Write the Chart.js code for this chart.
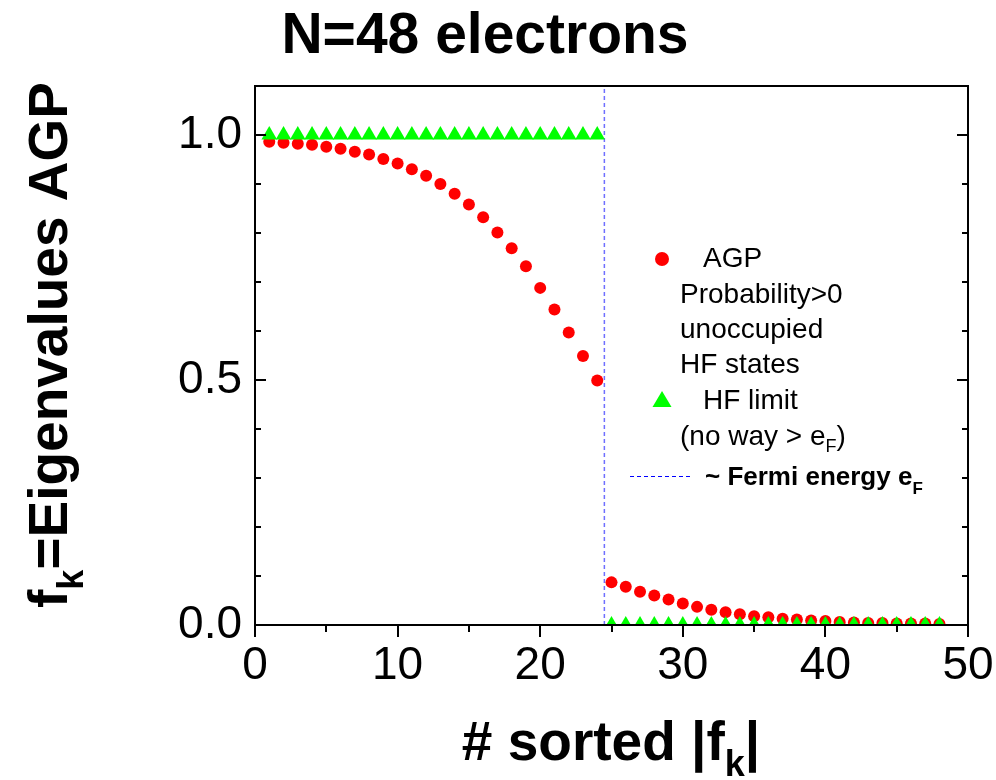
<!DOCTYPE html>
<html>
<head>
<meta charset="utf-8">
<script src="https://cdn.jsdelivr.net/npm/chart.js@4"></script>
<style>
  body { margin: 0; background: #fff; }
  #wrap { width: 996px; height: 780px; }
</style>
</head>
<body>
<div id="wrap"><canvas id="agpChart" width="996" height="780"></canvas></div>
<script>
// index of the sorted eigenvalue
const kIndex = [1, 2, 3, 4, 5, 6, 7, 8, 9, 10, 11, 12, 13, 14, 15, 16, 17, 18, 19, 20, 21, 22, 23, 24,
                25, 26, 27, 28, 29, 30, 31, 32, 33, 34, 35, 36, 37, 38, 39, 40, 41, 42, 43, 44, 45, 46, 47, 48];
const agpValues = [0.986, 0.984, 0.982, 0.980, 0.976, 0.972, 0.966, 0.960, 0.951, 0.942, 0.930, 0.917,
                   0.900, 0.880, 0.858, 0.832, 0.801, 0.769, 0.732, 0.688, 0.644, 0.597, 0.549, 0.499,
                   0.087, 0.078, 0.068, 0.060, 0.052, 0.044, 0.037, 0.031, 0.026, 0.022, 0.018, 0.016,
                   0.013, 0.011, 0.009, 0.008, 0.006, 0.005, 0.004, 0.004, 0.003, 0.003, 0.003, 0.002];
const hfValues = [1, 1, 1, 1, 1, 1, 1, 1, 1, 1, 1, 1, 1, 1, 1, 1, 1, 1, 1, 1, 1, 1, 1, 1,
                  0, 0, 0, 0, 0, 0, 0, 0, 0, 0, 0, 0, 0, 0, 0, 0, 0, 0, 0, 0, 0, 0, 0, 0];
const fermiX = 24.5;
const xTickLabels = [0, 10, 20, 30, 40, 50];
const yTickLabels = [0.0, 0.5, 1.0];

const FONT = "'Liberation Sans', Arial, sans-serif";

const toPoints = (ys) => kIndex.map((k, i) => ({ x: k, y: ys[i] }));

// frame, inward y ticks, outward x ticks, titles and the hand-made legend
const decorations = {
    id: 'decorations',
    afterDraw(chart) {
        const ctx = chart.ctx;
        const a = chart.chartArea;
        const xs = chart.scales.x, ys = chart.scales.y;
        ctx.save();
        ctx.strokeStyle = '#000';
        ctx.lineWidth = 2;
        ctx.strokeRect(a.left, a.top, a.right - a.left, a.bottom - a.top);

        ctx.beginPath();
        for (let i = 0; i <= 11; i++) {
            const v = i / 10;
            const py = Math.round(ys.getPixelForValue(v));
            const len = (i % 5 === 0) ? 11 : 6;
            ctx.moveTo(a.left, py); ctx.lineTo(a.left + len, py);
            ctx.moveTo(a.right, py); ctx.lineTo(a.right - len, py);
        }
        for (let v = 0; v <= 50; v += 5) {
            const px = Math.round(xs.getPixelForValue(v));
            const len = (v % 10 === 0) ? 12 : 7;
            ctx.moveTo(px, a.bottom); ctx.lineTo(px, a.bottom + len);
        }
        ctx.stroke();

        ctx.fillStyle = '#000';
        ctx.textBaseline = 'alphabetic';

        // main title
        ctx.font = `bold 57px ${FONT}`;
        ctx.textAlign = 'center';
        ctx.fillText('N=48 electrons', 485, 53);

        // x title: # sorted |f_k|
        ctx.textAlign = 'left';
        const big = `bold 55px ${FONT}`, sub = `bold 36px ${FONT}`;
        ctx.font = big;
        const p1 = '# sorted |f', p3 = '|';
        const w1 = ctx.measureText(p1).width, w3 = ctx.measureText(p3).width;
        ctx.font = sub;
        const wk = ctx.measureText('k').width;
        let x0 = 611 - (w1 + wk + w3) / 2;
        ctx.font = big; ctx.fillText(p1, x0, 760);
        ctx.font = sub; ctx.fillText('k', x0 + w1, 776);
        ctx.font = big; ctx.fillText(p3, x0 + w1 + wk, 760);

        // y title: f_k=Eigenvalues AGP (rotated)
        ctx.save();
        ctx.translate(67, 345);
        ctx.rotate(-Math.PI / 2);
        ctx.font = big;
        const q1 = 'f', q3 = '=Eigenvalues AGP';
        const v1 = ctx.measureText(q1).width, v3 = ctx.measureText(q3).width;
        ctx.font = sub;
        const vk = ctx.measureText('k').width;
        let y0 = -(v1 + vk + v3) / 2;
        ctx.font = big; ctx.fillText(q1, y0, 0);
        ctx.font = sub; ctx.fillText('k', y0 + v1, 16);
        ctx.font = big; ctx.fillText(q3, y0 + v1 + vk, 0);
        ctx.restore();

        // legend
        ctx.fillStyle = '#ff0000';
        ctx.beginPath(); ctx.arc(662, 259, 7, 0, Math.PI * 2); ctx.fill();
        ctx.fillStyle = '#00ff00';
        ctx.beginPath();
        ctx.moveTo(662, 391); ctx.lineTo(671.5, 407); ctx.lineTo(652.5, 407); ctx.closePath(); ctx.fill();

        ctx.fillStyle = '#000';
        ctx.textBaseline = 'middle';
        ctx.font = `28px ${FONT}`;
        ctx.fillText('AGP', 703, 259);
        ctx.fillText('Probability>0', 680, 295);
        ctx.fillText('unoccupied', 680, 330);
        ctx.fillText('HF states', 680, 365);
        ctx.fillText('HF limit', 703, 401);
        const s1 = '(no way > e';
        ctx.fillText(s1, 680, 437);
        const ws1 = ctx.measureText(s1).width;
        ctx.font = `18px ${FONT}`;
        ctx.fillText('F', 680 + ws1, 447);
        const wF = ctx.measureText('F').width;
        ctx.font = `28px ${FONT}`;
        ctx.fillText(')', 680 + ws1 + wF, 437);

        ctx.strokeStyle = '#0000ff';
        ctx.lineWidth = 1;
        ctx.setLineDash([4, 3]);
        ctx.beginPath(); ctx.moveTo(630, 476.5); ctx.lineTo(692, 476.5); ctx.stroke();
        ctx.setLineDash([]);

        ctx.font = `bold 26px ${FONT}`;
        const f1 = '~ Fermi energy e';
        ctx.fillText(f1, 705, 478);
        const wf1 = ctx.measureText(f1).width;
        ctx.font = `bold 17px ${FONT}`;
        ctx.fillText('F', 705 + wf1, 489);
        ctx.restore();
    }
};

new Chart(document.getElementById('agpChart'), {
    type: 'scatter',
    data: {
        datasets: [{
            label: 'HF limit',
            data: toPoints(hfValues),
            pointStyle: 'triangle',
            pointRadius: 9,
            backgroundColor: '#00ff00',
            borderWidth: 0
        }, {
            label: 'AGP',
            data: toPoints(agpValues),
            pointStyle: 'circle',
            pointRadius: 6,
            backgroundColor: '#ff0000',
            borderWidth: 0
        }, {
            type: 'line',
            label: 'Fermi energy',
            data: [{ x: fermiX, y: 0 }, { x: fermiX, y: 1.1 }],
            borderColor: '#6f6fff',
            borderWidth: 1.5,
            borderDash: [4, 3],
            pointRadius: 0,
            fill: false
        }]
    },
    options: {
        responsive: false,
        animation: false,
        layout: { padding: { top: 86, right: 28, left: 0, bottom: 0 } },
        plugins: {
            legend: { display: false },
            tooltip: { enabled: false }
        },
        scales: {
            x: {
                type: 'linear',
                min: 0, max: 50,
                grid: { display: false, drawTicks: false },
                border: { display: false },
                afterFit: (s) => { s.height = 155; s.paddingLeft = 0; s.paddingRight = 0; },
                ticks: {
                    stepSize: 5,
                    autoSkip: false,
                    maxRotation: 0,
                    padding: 14,
                    color: '#000',
                    font: { family: FONT, size: 46 },
                    callback: (v) => xTickLabels.includes(v) ? String(v) : ''
                }
            },
            y: {
                min: 0, max: 1.1,
                grid: { display: false, drawTicks: false },
                border: { display: false },
                afterFit: (s) => { s.width = 255; s.paddingTop = 0; s.paddingBottom = 0; },
                ticks: {
                    stepSize: 0.1,
                    includeBounds: false,
                    autoSkip: false,
                    padding: 13,
                    color: '#000',
                    font: { family: FONT, size: 46 },
                    callback: (v) => yTickLabels.some(t => Math.abs(t - v) < 1e-6) ? v.toFixed(1) : ''
                }
            }
        }
    },
    plugins: [decorations]
});
</script>
</body>
</html>
